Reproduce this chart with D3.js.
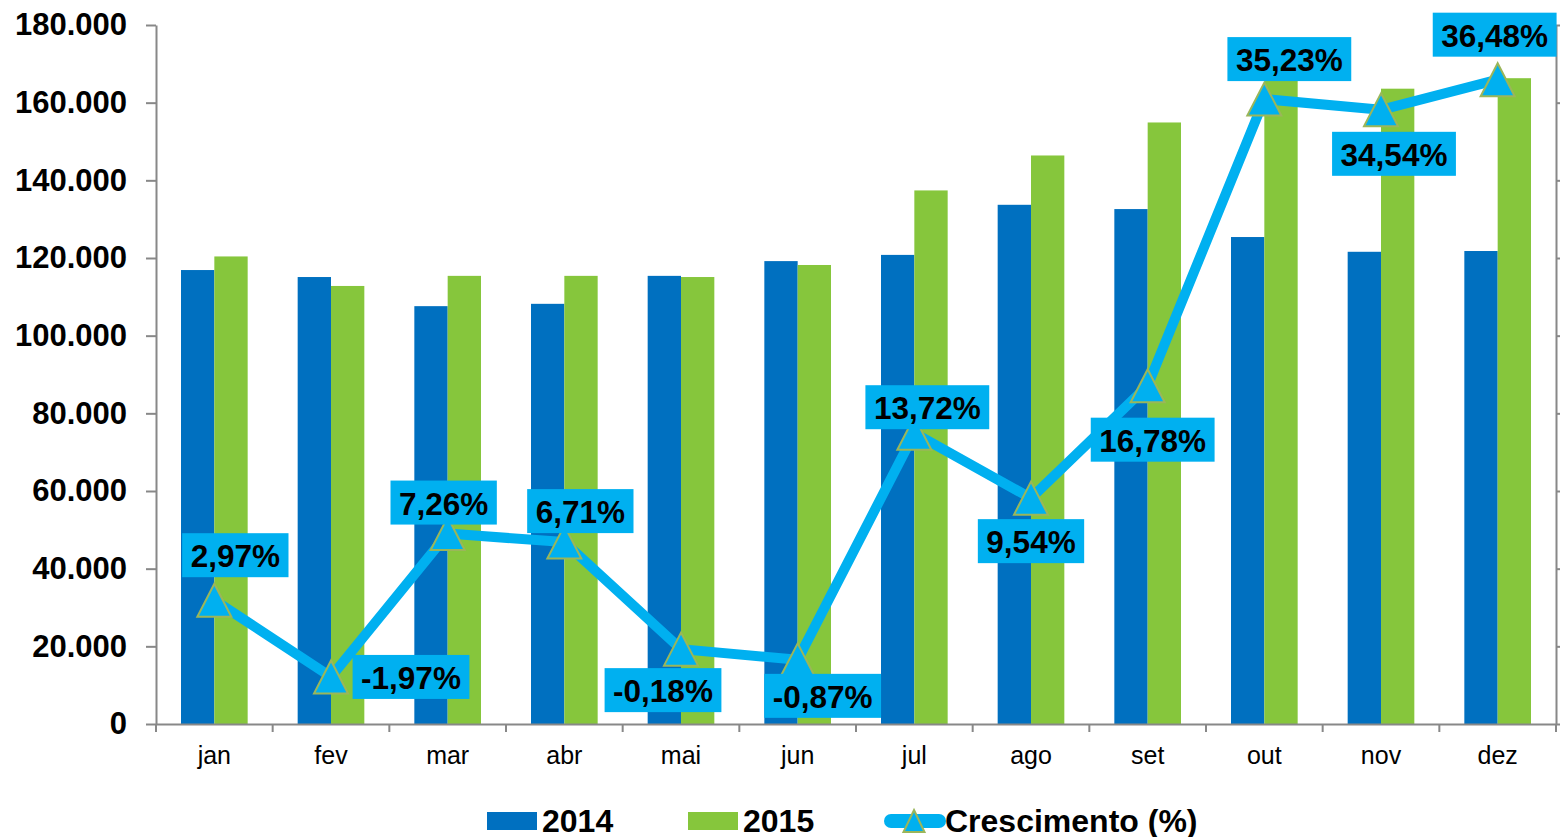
<!DOCTYPE html>
<html>
<head>
  <meta charset="utf-8">
  <title>Vendas 2014 x 2015</title>
  <script src="https://d3js.org/d3.v7.min.js"></script>
  <style>
    body { margin: 0; background: #fff; }
    svg { display: block; font-family: "Liberation Sans", Arial, sans-serif; }
  </style>
</head>
<body>
  <div id="chart"></div>
  <script>
    // data
    var months = ["jan", "fev", "mar", "abr", "mai", "jun", "jul", "ago", "set", "out", "nov", "dez"];
    var values2014 = [116900, 115100, 107600, 108200, 115400, 119200, 120800, 133700, 132600, 125400, 121600, 121800];
    var values2015 = [120400, 112800, 115400, 115400, 115100, 118200, 137400, 146400, 154900, 169600, 163600, 166300];
    var growth = [2.97, -1.97, 7.26, 6.71, -0.18, -0.87, 13.72, 9.54, 16.78, 35.23, 34.54, 36.48];
    var yTicks = [0, 20000, 40000, 60000, 80000, 100000, 120000, 140000, 160000, 180000];
    var y2Ticks = [-5, 0, 5, 10, 15, 20, 25, 30, 35, 40];
    var seriesNames = ["2014", "2015"];
    var lineName = "Crescimento (%)";

    var colors = { "2014": "#0070C0", "2015": "#86C63C", line: "#00B0F0", marker: "#9BB65A" };

    // plot box (note: "top" is a reserved window property, so use other names)
    var W = 1560, H = 837;
    var plotL = 156, plotR = 1556, plotT = 25, plotB = 724;

    var svg = d3.select("#chart").append("svg")
      .attr("width", W)
      .attr("height", H);

    var ptBR = d3.formatLocale({ decimal: ",", thousands: ".", grouping: [3], currency: ["R$", ""], minus: "-" });
    var fmtThousands = ptBR.format(",d");
    var fmtPct = ptBR.format(".2f");

    var x = d3.scaleBand().domain(months).range([plotL, plotR]).padding(0);
    var xs = d3.scaleBand().domain(seriesNames).range([0, x.bandwidth()]).paddingInner(0).paddingOuter(0.75);
    var y = d3.scaleLinear().domain([0, 180000]).range([plotB, plotT]);
    var y2 = d3.scaleLinear().domain([-5, 40]).range([plotB, plotT]);

    // bars
    var rows = months.map(function(m, i) { return { m: m, v: [values2014[i], values2015[i]] }; });
    var groups = svg.append("g").selectAll("g")
      .data(rows).enter().append("g")
        .attr("transform", function(d) { return "translate(" + x(d.m) + ",0)"; });
    groups.selectAll("rect")
      .data(function(d) { return seriesNames.map(function(s, j) { return { s: s, v: d.v[j] }; }); })
      .enter().append("rect")
        .attr("x", function(d) { return xs(d.s); })
        .attr("width", xs.bandwidth())
        .attr("y", function(d) { return y(d.v); })
        .attr("height", function(d) { return plotB - y(d.v); })
        .attr("fill", function(d) { return colors[d.s]; });

    // axes
    var axisColor = "#888";
    var yAxis = svg.append("g")
      .attr("transform", "translate(" + plotL + ",0)")
      .call(d3.axisLeft(y).tickValues(yTicks).tickFormat(fmtThousands).tickSize(10).tickSizeOuter(0).tickPadding(19));
    yAxis.selectAll("text").style("font-size", "31px").style("font-weight", "bold").attr("fill", "#000");

    var y2Axis = svg.append("g")
      .attr("transform", "translate(" + plotR + ",0)")
      .call(d3.axisRight(y2).tickValues(y2Ticks).tickFormat("").tickSize(5).tickSizeOuter(0));

    var xAxis = svg.append("g")
      .attr("transform", "translate(0," + plotB + ")")
      .call(d3.axisBottom(x).tickSize(0).tickSizeOuter(0).tickPadding(22));
    xAxis.selectAll("text").style("font-size", "25px").attr("fill", "#000");
    xAxis.selectAll(".sep")
      .data(months.map(function(m) { return x(m); }).concat([plotR]))
      .enter().append("line")
        .attr("class", "sep")
        .attr("x1", function(d) { return d; })
        .attr("x2", function(d) { return d; })
        .attr("y1", 0).attr("y2", 8);

    [yAxis, y2Axis, xAxis].forEach(function(a) {
      a.selectAll("path, line").attr("stroke", axisColor).attr("stroke-width", 2);
    });

    // growth line
    var pts = months.map(function(m, i) { return { m: m, g: growth[i], px: x(m) + x.bandwidth() / 2, py: y2(growth[i]) }; });
    svg.append("path")
      .datum(pts)
      .attr("fill", "none")
      .attr("stroke", colors.line)
      .attr("stroke-width", 10)
      .attr("stroke-linejoin", "round")
      .attr("d", d3.line().x(function(d) { return d.px; }).y(function(d) { return d.py; }));

    var tri = function(w, h) {
      return "M0," + (-h / 2) + "L" + (w / 2) + "," + (h / 2) + "L" + (-w / 2) + "," + (h / 2) + "Z";
    };
    svg.append("g").selectAll("path")
      .data(pts).enter().append("path")
        .attr("transform", function(d) { return "translate(" + d.px + "," + d.py + ")"; })
        .attr("d", tri(34, 33))
        .attr("fill", colors.line)
        .attr("stroke", colors.marker)
        .attr("stroke-width", 2);

    // data labels: offset of the box centre from the point
    var labelOffset = [[21, -45], [80, 0], [-4, -31], [16, -31], [-18, 41], [25, 36],
                       [13, -26], [0, 43], [5, 54], [25, -40], [13, 44], [-3, -45]];
    var lbl = svg.append("g").selectAll("g")
      .data(pts).enter().append("g")
        .attr("transform", function(d, i) {
          return "translate(" + (d.px + labelOffset[i][0]) + "," + (d.py + labelOffset[i][1]) + ")";
        });
    lbl.append("rect").attr("fill", colors.line);
    lbl.append("text")
      .attr("text-anchor", "middle")
      .attr("y", 12)
      .style("font-size", "31.5px")
      .style("font-weight", "bold")
      .attr("fill", "#000")
      .text(function(d) { return fmtPct(d.g) + "%"; });
    lbl.each(function() {
      var g = d3.select(this);
      var w = g.select("text").node().getComputedTextLength() + 17;
      g.select("rect").attr("x", -w / 2).attr("y", -22).attr("width", w).attr("height", 44);
    });

    // legend
    var legend = svg.append("g").attr("transform", "translate(0,832)");
    var legendItems = [
      { name: seriesNames[0], x: 487, type: "bar" },
      { name: seriesNames[1], x: 688, type: "bar" },
      { name: lineName, x: 884, type: "line" }
    ];
    legendItems.forEach(function(it) {
      var g = legend.append("g").attr("transform", "translate(" + it.x + ",0)");
      var tx;
      if (it.type === "bar") {
        g.append("rect").attr("x", 0).attr("y", -20).attr("width", 50).attr("height", 18).attr("fill", colors[it.name]);
        tx = 55;
      } else {
        g.append("line").attr("x1", 7).attr("x2", 55).attr("y1", -11).attr("y2", -11)
          .attr("stroke", colors.line).attr("stroke-width", 14).attr("stroke-linecap", "round");
        g.append("path").attr("transform", "translate(30,-11)").attr("d", tri(21, 22))
          .attr("fill", colors.line).attr("stroke", colors.marker).attr("stroke-width", 2);
        tx = 61;
      }
      g.append("text").attr("x", tx).attr("y", 0)
        .style("font-size", "32px").style("font-weight", "bold").attr("fill", "#000")
        .text(it.name);
    });
  </script>
</body>
</html>
